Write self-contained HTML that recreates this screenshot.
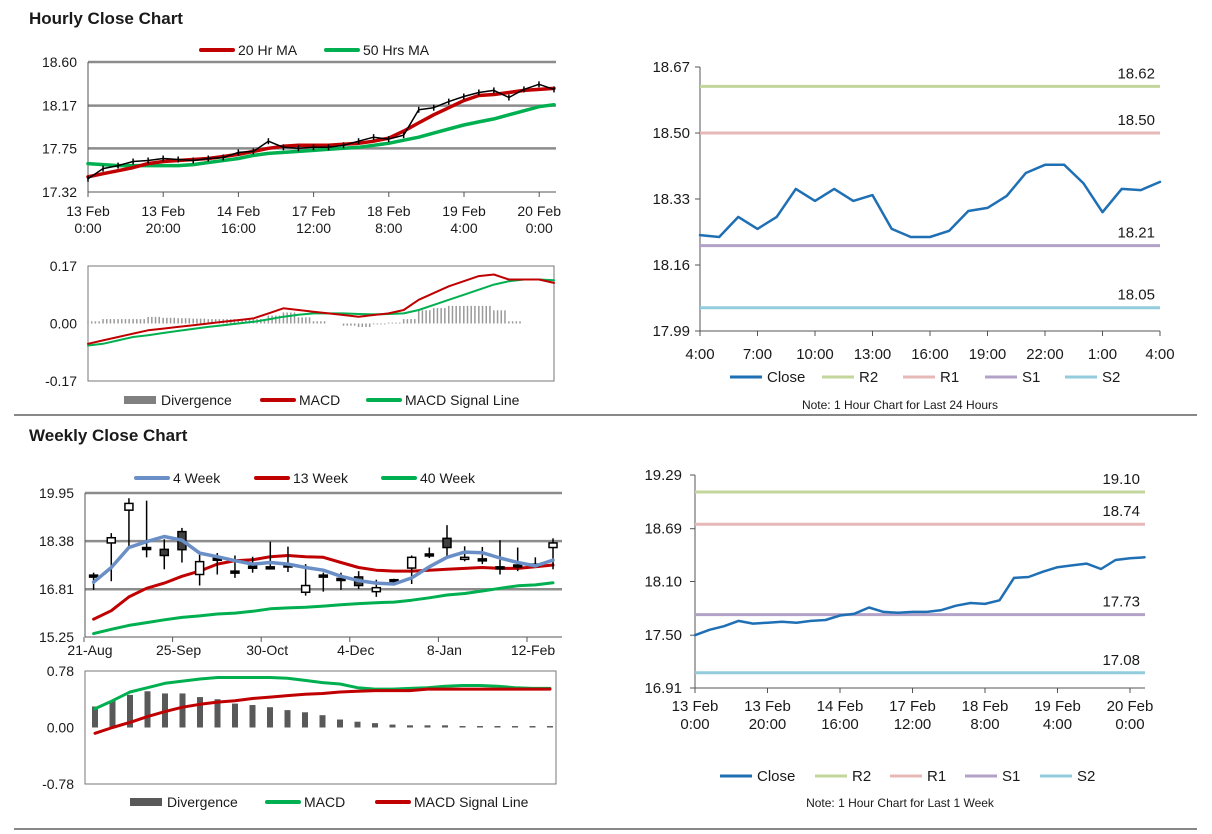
<!DOCTYPE html>
<html><head><meta charset="utf-8"><style>
body{margin:0;background:#fff;}
svg{display:block;font-family:"Liberation Sans",sans-serif;}
</style></head><body>
<svg id="s" width="1212" height="834" xmlns="http://www.w3.org/2000/svg">
<text x="29" y="24" font-size="17" font-weight="bold" fill="#1a1a1a">Hourly Close Chart</text>
<line x1="14" y1="415" x2="1197" y2="415" stroke="#888" stroke-width="2"/>
<text x="29" y="441" font-size="17" font-weight="bold" fill="#1a1a1a">Weekly Close Chart</text>
<line x1="14" y1="829" x2="1197" y2="829" stroke="#888" stroke-width="2"/>
</svg>
<script>
// ---------- DATA ----------
const hourlyLabels1 = ["13 Feb|0:00","13 Feb|20:00","14 Feb|16:00","17 Feb|12:00","18 Feb|8:00","19 Feb|4:00","20 Feb|0:00"];
const hourlyTicks1 = [18.60,18.17,17.75,17.32];
const hClose = [17.45,17.55,17.58,17.62,17.63,17.65,17.64,17.63,17.65,17.66,17.71,17.72,17.82,17.76,17.75,17.76,17.76,17.78,17.82,17.86,17.84,17.88,18.13,18.15,18.21,18.26,18.30,18.32,18.25,18.33,18.38,18.33];
const hMA20 = [17.47,17.50,17.53,17.56,17.60,17.62,17.63,17.64,17.65,17.67,17.69,17.72,17.75,17.77,17.78,17.78,17.78,17.79,17.80,17.82,17.85,17.92,18.00,18.08,18.15,18.22,18.27,18.28,18.30,18.32,18.33,18.34];
const hMA50 = [17.60,17.59,17.58,17.58,17.58,17.58,17.58,17.59,17.61,17.63,17.65,17.68,17.70,17.71,17.72,17.73,17.74,17.75,17.76,17.78,17.80,17.83,17.86,17.90,17.94,17.98,18.01,18.04,18.08,18.12,18.16,18.18];
const hMACD = [-0.06,-0.05,-0.04,-0.03,-0.02,-0.015,-0.01,-0.005,0.0,0.005,0.01,0.015,0.03,0.045,0.04,0.035,0.03,0.025,0.02,0.025,0.03,0.04,0.07,0.09,0.11,0.125,0.14,0.145,0.13,0.13,0.13,0.12];
const hSignal = [-0.065,-0.06,-0.05,-0.04,-0.035,-0.028,-0.022,-0.016,-0.01,-0.005,0.0,0.005,0.012,0.02,0.026,0.03,0.03,0.03,0.028,0.027,0.028,0.03,0.04,0.055,0.07,0.085,0.1,0.115,0.125,0.13,0.13,0.128];
const macdTicks1 = [0.17,0.00,-0.17];

const dayLabels = ["4:00","7:00","10:00","13:00","16:00","19:00","22:00","1:00","4:00"];
const dayTicks = [18.67,18.50,18.33,18.16,17.99];
const dayClose = [18.237,18.232,18.284,18.253,18.284,18.356,18.325,18.356,18.325,18.340,18.253,18.232,18.232,18.248,18.299,18.307,18.338,18.397,18.418,18.418,18.371,18.296,18.356,18.353,18.374];
const dayLevels = [18.62,18.50,18.21,18.05];

const wkLabels = ["13 Feb|0:00","13 Feb|20:00","14 Feb|16:00","17 Feb|12:00","18 Feb|8:00","19 Feb|4:00","20 Feb|0:00"];
const wkTicks = [19.29,18.69,18.10,17.50,16.91];
const wkClose = [17.50,17.56,17.60,17.66,17.63,17.64,17.65,17.64,17.66,17.67,17.72,17.74,17.81,17.76,17.75,17.76,17.76,17.78,17.83,17.86,17.85,17.89,18.14,18.15,18.21,18.26,18.28,18.30,18.24,18.34,18.36,18.37];
const wkLevels = [19.10,18.74,17.73,17.08];

const weekLabels = ["21-Aug","25-Sep","30-Oct","4-Dec","8-Jan","12-Feb"];
const weekTicks = [19.95,18.38,16.81,15.25];
const cOpen  = [17.27,18.32,19.39,18.17,18.11,18.69,17.29,17.82,17.40,17.56,17.54,17.60,16.71,17.27,17.16,17.21,16.73,17.12,17.50,17.96,18.47,17.80,17.80,17.54,17.60,17.63,18.17];
const cClose = [17.27,18.49,19.61,18.17,17.91,18.10,17.71,17.82,17.40,17.56,17.54,17.60,16.93,17.27,17.16,16.93,16.86,17.12,17.85,17.96,18.17,17.85,17.80,17.54,17.60,17.63,18.32];
const cHigh  = [17.35,18.64,19.78,19.70,18.44,18.81,17.96,17.99,17.91,17.87,18.36,18.20,17.63,17.35,17.35,17.40,17.12,17.15,17.91,18.17,18.90,18.21,18.19,18.41,18.17,17.85,18.47];
const cLow   = [16.79,17.07,18.19,17.85,17.46,17.68,16.93,17.29,17.18,17.35,17.50,17.37,16.60,16.73,16.79,16.82,16.56,16.95,16.98,17.83,17.83,17.72,17.63,17.29,17.40,17.54,17.46];
const ma4  = [17.04,17.52,18.17,18.36,18.53,18.41,17.99,17.87,17.74,17.63,17.68,17.63,17.52,17.43,17.23,17.09,17.01,16.98,17.18,17.54,17.85,18.02,18.00,17.83,17.68,17.57,17.76];
const ma13 = [15.83,16.11,16.56,16.84,17.01,17.23,17.40,17.63,17.74,17.77,17.87,17.91,17.87,17.85,17.68,17.52,17.43,17.40,17.40,17.43,17.46,17.49,17.52,17.49,17.49,17.54,17.60];
const ma40 = [15.36,15.50,15.63,15.72,15.81,15.89,15.94,16.00,16.03,16.09,16.17,16.20,16.22,16.26,16.30,16.34,16.37,16.39,16.45,16.53,16.62,16.67,16.75,16.84,16.92,16.95,17.02];
const wMACD = [0.26,0.37,0.49,0.55,0.61,0.64,0.67,0.69,0.69,0.69,0.69,0.68,0.65,0.62,0.60,0.55,0.53,0.53,0.54,0.55,0.57,0.58,0.58,0.57,0.55,0.54,0.54];
const wSignal = [-0.08,0.0,0.07,0.15,0.22,0.28,0.32,0.35,0.37,0.40,0.42,0.44,0.46,0.47,0.49,0.50,0.51,0.51,0.51,0.53,0.53,0.53,0.53,0.53,0.53,0.53,0.53];
const wDiv = [0.29,0.37,0.45,0.50,0.47,0.47,0.42,0.39,0.33,0.31,0.28,0.24,0.21,0.17,0.11,0.08,0.06,0.04,0.03,0.03,0.03,0.02,0.02,0.02,0.02,0.02,0.02];
const wMacdTicks = [0.78,0.00,-0.78];

// ---------- HELPERS ----------
const S = document.getElementById('s');
const NS = "http://www.w3.org/2000/svg";
function mk(tag, attrs, name, txt){
  const e = document.createElementNS(NS, tag);
  for (const k in attrs) e.setAttribute(k, attrs[k]);
  
  
  if (txt !== undefined) e.textContent = txt;
  S.appendChild(e);
  return e;
}
function lin(d0,d1,r0,r1){ return v => r0 + (v-d0)/(d1-d0)*(r1-r0); }
function poly(xs, ys, color, w, name){
  let p = xs.map((x,i)=>x.toFixed(1)+","+ys[i].toFixed(1)).join(" ");
  mk('polyline',{points:p,fill:"none",stroke:color,"stroke-width":w,"stroke-linejoin":"round","stroke-linecap":"round"},name);
}
function legendItem(x,y,color,label,name,rect){
  if (rect) mk('rect',{x:x,y:y-4,width:32,height:8,fill:color},name+'-swatch');
  else mk('line',{x1:x,y1:y,x2:x+32,y2:y,stroke:color,"stroke-width":4,"stroke-linecap":"round"},name+'-swatch');
  mk('text',{x:x+37,y:y+5,"font-size":14,fill:"#1a1a1a"},name+'-label',label);
}
const RED="#c00000", GRN="#00b050", BLU="#1f6fb4", GRID="#8c8c8c";
const LVLC=["#c3d69b","#e6b9b8","#b3a2c7","#93cddd"];

// ---------- HOURLY PRICE (top-left) ----------
(function(){
  const x0=88,x1=556,yT=62,yB=192;
  const y=lin(17.32,18.60,yB,yT);
  const xi=lin(0,31,88,554);
  hourlyTicks1.forEach(t=>{
    if (t>17.33) mk('line',{x1:x0,y1:y(t),x2:x1,y2:y(t),stroke:GRID,"stroke-width":2.5},'gridline');
    mk('text',{x:77,y:y(t)+5,"font-size":14,"text-anchor":"end",fill:"#1a1a1a"},'y-tick-label',t.toFixed(2));
  });
  mk('line',{x1:x0,y1:yT,x2:x0,y2:yB,stroke:"#555","stroke-width":1},'y-axis');
  mk('line',{x1:x0,y1:yB,x2:x1,y2:yB,stroke:"#555","stroke-width":1},'x-axis');
  hourlyLabels1.forEach((l,i)=>{
    const xx=88+i*75.2, p=l.split("|");
    mk('line',{x1:xx,y1:yB,x2:xx,y2:yB+5,stroke:"#555"},'x-tick');
    mk('text',{x:xx,y:216,"font-size":14,"text-anchor":"middle",fill:"#1a1a1a"},'x-tick-label',p[0]);
    mk('text',{x:xx,y:233,"font-size":14,"text-anchor":"middle",fill:"#1a1a1a"},'x-tick-label',p[1]);
  });
  const xs=hClose.map((v,i)=>xi(i));
  poly(xs,hMA50.map(y),GRN,3.5,'ma50-line');
  poly(xs,hMA20.map(y),RED,3.5,'ma20-line');
  poly(xs,hClose.map(y),"#000",1.5,'hourly-close-line');
  hClose.forEach((v,i)=>{ mk('line',{x1:xi(i),y1:y(v)-3,x2:xi(i),y2:y(v)+3,stroke:"#000","stroke-width":1.5},'close-bar'); });
  legendItem(201,50,RED,"20 Hr MA",'legend-ma20');
  legendItem(326,50,GRN,"50 Hrs MA",'legend-ma50');
})();

// ---------- HOURLY MACD ----------
(function(){
  const x0=88,x1=554,yT=266,yB=381;
  const y=lin(-0.17,0.17,yB,yT);
  const xi=lin(0,31,88,554);
  mk('rect',{x:x0,y:yT,width:x1-x0,height:yB-yT,fill:"none",stroke:"#777"},'macd-panel-frame');
  macdTicks1.forEach(t=>{
    mk('text',{x:77,y:y(t)+5,"font-size":14,"text-anchor":"end",fill:"#1a1a1a"},'y-tick-label',t.toFixed(2));
  });
  hMACD.forEach((v,i)=>{
    const d=(v-hSignal[i])*1.3;
    for(let k=0;k<4;k++){ const xx=xi(i)+k*3.7; if(xx>x1-2)break;
      mk('line',{x1:xx,y1:y(0),x2:xx,y2:y(d),stroke:"#999","stroke-width":1.5},'divergence-bar'); }
  });
  const xs=hMACD.map((v,i)=>xi(i));
  poly(xs,hSignal.map(y),GRN,2,'macd-signal-line');
  poly(xs,hMACD.map(y),RED,2,'macd-line');
  legendItem(124,400,"#808080","Divergence",'legend-divergence',true);
  legendItem(262,400,RED,"MACD",'legend-macd');
  legendItem(368,400,GRN,"MACD Signal Line",'legend-signal');
})();

// ---------- 24H CHART (top-right) ----------
(function(){
  const x0=700,x1=1160,yT=67,yB=331;
  const y=lin(17.99,18.67,yB,yT);
  const xi=lin(0,24,x0,x1);
  mk('line',{x1:x0,y1:yT,x2:x0,y2:yB,stroke:"#555"},'y-axis');
  mk('line',{x1:x0,y1:yB,x2:x1,y2:yB,stroke:"#555"},'x-axis');
  dayTicks.forEach(t=>{
    mk('line',{x1:x0-5,y1:y(t),x2:x0,y2:y(t),stroke:"#555"},'y-tick');
    mk('text',{x:690,y:y(t)+5,"font-size":15,"text-anchor":"end",fill:"#1a1a1a"},'y-tick-label',t.toFixed(2));
  });
  dayLabels.forEach((l,i)=>{
    const xx=x0+i*57.5;
    mk('line',{x1:xx,y1:yB,x2:xx,y2:yB+5,stroke:"#555"},'x-tick');
    mk('text',{x:xx,y:359,"font-size":15,"text-anchor":"middle",fill:"#1a1a1a"},'x-tick-label',l);
  });
  dayLevels.forEach((v,i)=>{
    mk('line',{x1:x0,y1:y(v),x2:x1,y2:y(v),stroke:LVLC[i],"stroke-width":3},'level-line-'+["r2","r1","s1","s2"][i]);
    mk('text',{x:1155,y:y(v)-8,"font-size":15,"text-anchor":"end",fill:"#1a1a1a"},'level-label',v.toFixed(2));
  });
  poly(dayClose.map((v,i)=>xi(i)),dayClose.map(y),BLU,2.5,'close-line-24h');
  ["Close","R2","R1","S1","S2"].forEach((l,i)=>{
    const xx=[730,822,903,985,1065][i];
    mk('line',{x1:xx,y1:377,x2:xx+32,y2:377,stroke:[BLU].concat(LVLC)[i],"stroke-width":3},'legend-swatch-'+l.toLowerCase());
    mk('text',{x:xx+37,y:382,"font-size":15,fill:"#1a1a1a"},'legend-label-'+l.toLowerCase(),l);
  });
  mk('text',{x:900,y:409,"font-size":12,"text-anchor":"middle",fill:"#1a1a1a"},'note-24h',"Note: 1 Hour Chart for Last 24 Hours");
})();

// ---------- WEEKLY CANDLES (bottom-left) ----------
(function(){
  const x0=85,x1=562,yT=493,yB=637;
  const y=lin(15.25,19.95,yB,yT);
  const xi=i=>93.6+i*17.67;
  weekTicks.forEach(t=>{
    if(t>15.3) mk('line',{x1:x0,y1:y(t),x2:x1,y2:y(t),stroke:GRID,"stroke-width":2.5},'gridline');
    mk('text',{x:74,y:y(t)+5,"font-size":14,"text-anchor":"end",fill:"#1a1a1a"},'y-tick-label',t.toFixed(2));
  });
  mk('line',{x1:x0,y1:yT,x2:x0,y2:yB,stroke:"#555"},'y-axis');
  mk('line',{x1:x0,y1:yB,x2:x1,y2:yB,stroke:"#555"},'x-axis');
  weekLabels.forEach((l,i)=>{
    const xx=84+i*88.6;
    mk('line',{x1:xx,y1:yB,x2:xx,y2:yB+5,stroke:"#555"},'x-tick');
    mk('text',{x:xx+6,y:655,"font-size":14,"text-anchor":"middle",fill:"#1a1a1a"},'x-tick-label',l);
  });
  const xs=ma4.map((v,i)=>xi(i));
  poly(xs,ma40.map(y),GRN,3,'ma40-line');
  poly(xs,ma13.map(y),RED,3,'ma13-line');
  cOpen.forEach((o,i)=>{
    const c=cClose[i], xx=xi(i);
    mk('line',{x1:xx,y1:y(cHigh[i]),x2:xx,y2:y(cLow[i]),stroke:"#000","stroke-width":1.5},'candle-wick');
    const top=y(Math.max(o,c)), bot=y(Math.min(o,c));
    const h=Math.max(bot-top,2);
    mk('rect',{x:xx-4,y:top,width:8,height:h,fill:c>o?"#fff":(c<o?"#404040":"#000"),stroke:"#000","stroke-width":1.5},'candle-body');
  });
  poly(xs,ma4.map(y),"#6a8fc6",3.5,'ma4-line');
  legendItem(136,478,"#6a8fc6","4 Week",'legend-4wk');
  legendItem(256,478,RED,"13 Week",'legend-13wk');
  legendItem(383,478,GRN,"40 Week",'legend-40wk');
})();

// ---------- WEEKLY MACD ----------
(function(){
  const x0=85,x1=556,yT=671,yB=784;
  const y=lin(-0.78,0.78,yB,yT);
  const xi=i=>95+i*17.5;
  mk('rect',{x:x0,y:yT,width:x1-x0,height:yB-yT,fill:"none",stroke:"#777"},'macd-panel-frame');
  wMacdTicks.forEach(t=>{
    mk('text',{x:74,y:y(t)+5,"font-size":14,"text-anchor":"end",fill:"#1a1a1a"},'y-tick-label',t.toFixed(2));
  });
  wDiv.forEach((v,i)=>{
    mk('rect',{x:xi(i)-3,y:y(v),width:6,height:y(0)-y(v),fill:"#595959"},'divergence-bar');
  });
  const xs=wMACD.map((v,i)=>xi(i));
  poly(xs,wMACD.map(y),GRN,3,'weekly-macd-line');
  poly(xs,wSignal.map(y),RED,3,'weekly-signal-line');
  legendItem(130,802,"#595959","Divergence",'legend-divergence',true);
  legendItem(267,802,GRN,"MACD",'legend-macd');
  legendItem(377,802,RED,"MACD Signal Line",'legend-signal');
})();

// ---------- WEEK CLOSE (bottom-right) ----------
(function(){
  const x0=695,x1=1145,yT=475,yB=688;
  const y=lin(16.91,19.29,yB,yT);
  const xi=i=>695+i*14.5;
  mk('line',{x1:x0,y1:yT,x2:x0,y2:yB,stroke:"#555"},'y-axis');
  mk('line',{x1:x0,y1:yB,x2:x1,y2:yB,stroke:"#555"},'x-axis');
  wkTicks.forEach(t=>{
    mk('line',{x1:x0-5,y1:y(t),x2:x0,y2:y(t),stroke:"#555"},'y-tick');
    mk('text',{x:682,y:y(t)+5,"font-size":15,"text-anchor":"end",fill:"#1a1a1a"},'y-tick-label',t.toFixed(2));
  });
  wkLabels.forEach((l,i)=>{
    const xx=695+i*72.5, p=l.split("|");
    mk('line',{x1:xx,y1:yB,x2:xx,y2:yB+5,stroke:"#555"},'x-tick');
    mk('text',{x:xx,y:711,"font-size":15,"text-anchor":"middle",fill:"#1a1a1a"},'x-tick-label',p[0]);
    mk('text',{x:xx,y:729,"font-size":15,"text-anchor":"middle",fill:"#1a1a1a"},'x-tick-label',p[1]);
  });
  wkLevels.forEach((v,i)=>{
    mk('line',{x1:x0,y1:y(v),x2:x1,y2:y(v),stroke:LVLC[i],"stroke-width":3},'level-line-'+["r2","r1","s1","s2"][i]);
    mk('text',{x:1140,y:y(v)-8,"font-size":15,"text-anchor":"end",fill:"#1a1a1a"},'level-label',v.toFixed(2));
  });
  poly(wkClose.map((v,i)=>xi(i)),wkClose.map(y),BLU,2.5,'close-line-week');
  ["Close","R2","R1","S1","S2"].forEach((l,i)=>{
    const xx=[720,815,890,965,1040][i];
    mk('line',{x1:xx,y1:776,x2:xx+32,y2:776,stroke:[BLU].concat(LVLC)[i],"stroke-width":3},'legend-swatch-'+l.toLowerCase());
    mk('text',{x:xx+37,y:781,"font-size":15,fill:"#1a1a1a"},'legend-label-'+l.toLowerCase(),l);
  });
  mk('text',{x:900,y:807,"font-size":12,"text-anchor":"middle",fill:"#1a1a1a"},'note-week',"Note: 1 Hour Chart for Last 1 Week");
})();
</script>
</body></html>
